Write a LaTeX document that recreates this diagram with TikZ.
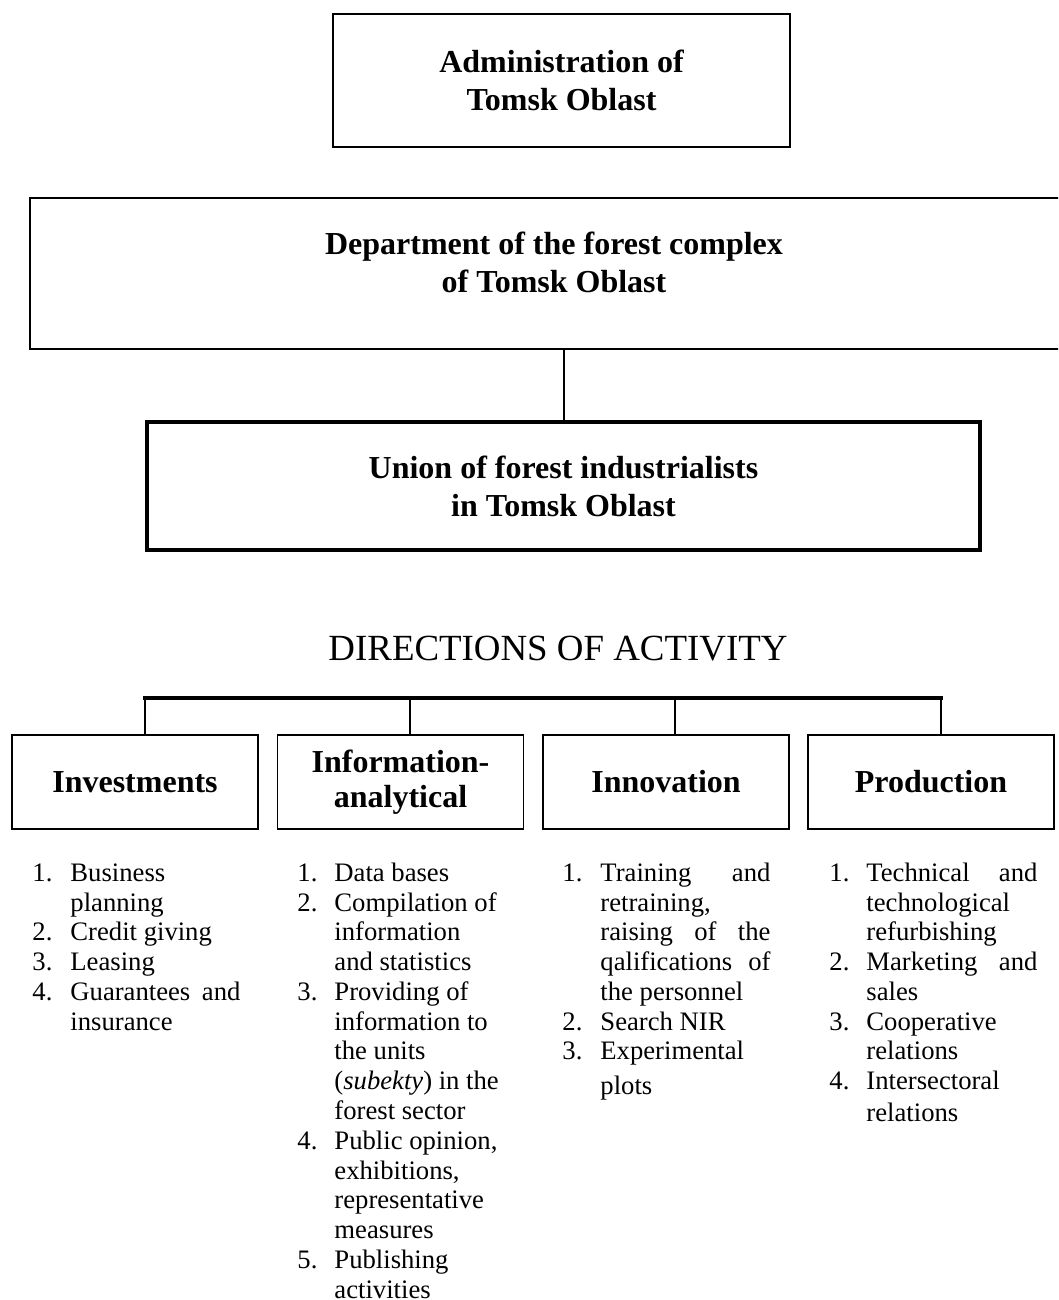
\documentclass[tikz,border=0pt]{standalone}
\usepackage{fontspec}
\setmainfont{Liberation Serif}
\newdimen\px
\px=0.45pt
\begin{document}
\begin{tikzpicture}[x=0.45pt, y=-0.45pt,
        box/.style={draw, line width=0.9pt, inner sep=0pt, align=center,
            font=\fontsize{14.4}{17.1}\selectfont\bfseries},
        title/.style={inner sep=0pt, align=center,
            font=\fontsize{14.4}{17.1}\selectfont\bfseries},
        dirbox/.style={box, line width=0.7pt, minimum width=246\px, minimum height=94\px,
            font=\fontsize{14.4}{15.75}\selectfont\bfseries},
        itemlist/.style={anchor=north west, inner sep=0pt,
            font=\fontsize{12}{13.4}\selectfont},
        bus/.style={line width=1.4pt, line cap=rect},
        link/.style={line width=0.9pt}]
            \useasboundingbox (0,0) rectangle (1058,1300);
            \clip (0,0) rectangle (1058,1300);

            \node[box, minimum width=457\px, minimum height=133\px] (admin) at (561.5,80.5) {Administration of\\Tomsk Oblast};
            \node[box, minimum width=1048\px, minimum height=151\px] (dept) at (554,273.5) {};
            \node[title] (depttitle) at (554,262) {Department of the forest complex\\of Tomsk Oblast};
            \node[box, line width=1.6pt, minimum width=833\px, minimum height=128\px] (union) at (563.5,486) {Union of forest industrialists\\in Tomsk Oblast};

            \draw[link] (dept.south -| union.north) to (union.north);

            \node[anchor=base, font=\fontsize{16.6}{20}\selectfont] (dirs) at (558,660) {DIRECTIONS OF ACTIVITY};

            \node[dirbox] (inv) at (135,782) {Investments};
            \node[dirbox] (info) at (400.5,782) {Information-\\analytical};
            \node[dirbox] (innov) at (666,782) {Innovation};
            \node[dirbox] (prod) at (931,782) {Production};

            \coordinate (b1) at (145,698);
            \coordinate (b2) at (410,698);
            \coordinate (b3) at (675,698);
            \coordinate (b4) at (941,698);
            \draw[bus] (b1) to (b4);
            \foreach \b/\n in {b1/inv, b2/info, b3/innov, b4/prod}
                \draw[link] (\b) to (\b |- \n.north);

            \node[itemlist] (invlist) at (32,860) {\begin{tabular}{@{}p{38\px}@{}p{170\px}@{}}
                1. & Business\\
                   & planning\\
                2. & Credit giving\\
                3. & Leasing\\
                4. & Guarantees \hfill and\\
                   & insurance
            \end{tabular}};
            \node[itemlist] (infolist) at (297,860) {\begin{tabular}{@{}p{37\px}@{}p{171\px}@{}}
                1. & Data bases\\
                2. & Compilation of\\
                   & information\\
                   & and statistics\\
                3. & Providing of\\
                   & information to\\
                   & the units\\
                   & (\textit{subekty}) in the\\
                   & forest sector\\
                4. & Public opinion,\\
                   & exhibitions,\\
                   & representative\\
                   & measures\\
                5. & Publishing\\
                   & activities
            \end{tabular}};
            \node[itemlist] (innovlist) at (562,860) {\begin{tabular}{@{}p{38\px}@{}p{170\px}@{}}
                1. & Training \hfill and\\
                   & retraining,\\
                   & raising \hfill of \hfill the\\
                   & qalifications \hfill of\\
                   & the personnel\\
                2. & Search NIR\\
                3. & Experimental\\[2pt]
                   & plots
            \end{tabular}};
            \node[itemlist] (prodlist) at (829,860) {\begin{tabular}{@{}p{37\px}@{}p{171\px}@{}}
                1. & Technical \hfill and\\
                   & technological\\
                   & refurbishing\\
                2. & Marketing \hfill and\\
                   & sales\\
                3. & Cooperative\\
                   & relations\\
                4. & Intersectoral\\[1pt]
                   & relations
            \end{tabular}};
        \end{tikzpicture}
\end{document}
